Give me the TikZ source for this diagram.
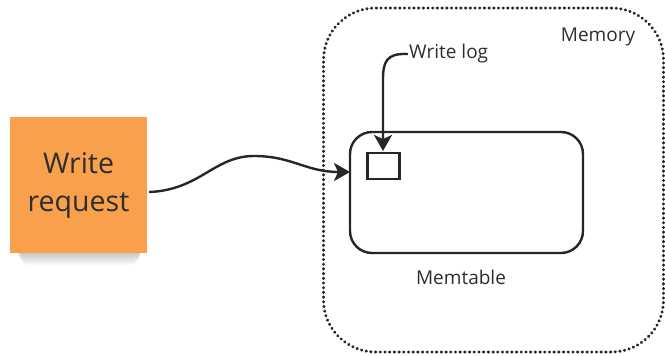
\documentclass[tikz,border=0pt]{standalone}
\usepackage{fontspec}
\setmainfont{Open Sans}
\usetikzlibrary{arrows.meta}
\definecolor{ink}{HTML}{262626}
\definecolor{txt}{HTML}{2E2E2E}
\definecolor{sticky}{HTML}{F9A04C}
\tikzset{
  lbl/.style={text=txt, font=\fontsize{19}{23}\selectfont, inner sep=0pt},
  solidbox/.style={draw=ink, line width=2.4pt, fill=white},
  flow/.style={draw=ink, line width=2.4pt, -{Stealth[length=16pt,width=18pt,inset=4pt]}},
}
\begin{document}
\begin{tikzpicture}[x=1pt,y=-1pt]
\useasboundingbox (0,0) rectangle (665,356);
% soft shadow under the sticky note
\foreach \k in {1,...,8}{
  \fill[black, opacity=0.03, rounded corners=8pt]
    (14+\k*0.8,150) rectangle (145-\k*0.8,252+\k*1.6);
}
% sticky note
\node[fill=sticky, minimum width=137pt, minimum height=136pt, inner sep=0pt,
      align=center, text=txt, font=\fontsize{28.5}{38}\selectfont]
  (note) at (78.5,185) {Write\\request};
% memory region (dotted, rounded)
\node[draw=ink, line width=3pt, dash pattern=on 0.4pt off 4.3pt, line cap=round,
      rounded corners=52pt, minimum width=340pt, minimum height=344pt, inner sep=0pt]
  (mem) at (493.5,180) {};
\node[lbl] (memlbl) at (598,37) {Memory};
% memtable
\node[solidbox, rounded corners=22pt, minimum width=233pt, minimum height=121pt, inner sep=0pt]
  (mt) at (466.5,192.5) {};
\node[lbl] (mtlbl) at (461,277) {Memtable};
% write-log slot
\node[draw=ink, line width=2.2pt, minimum width=32pt, minimum height=26pt, inner sep=0pt]
  (slot) at (383.5,166) {};
% write-log label
\node[lbl, anchor=west] (wl) at (409,54) {Write log};
\coordinate (wltip) at (383,151);
\coordinate (mtin) at (350,172);
% connectors
\draw[flow] ([shift={(2,7)}]note.east) .. controls (200,190) and (214,156) .. (254,156)
  .. controls (292,156) and (306,172) .. (mtin);
\draw[flow] ([xshift=-1pt]wl.west) .. controls (386,53) and (383,62) .. (383,80) -- (wltip);
\end{tikzpicture}
\end{document}
